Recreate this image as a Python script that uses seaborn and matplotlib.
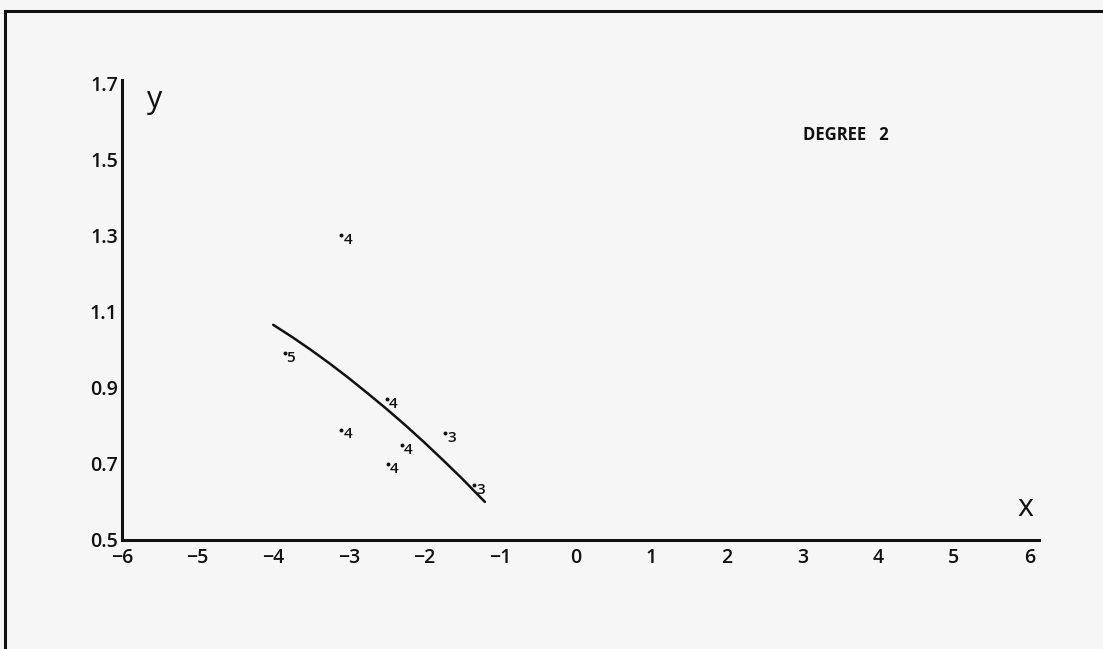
import matplotlib
matplotlib.use("Agg")
import matplotlib.pyplot as plt
from matplotlib.patches import Rectangle
import seaborn as sns
import pandas as pd

# Observed points and their multiplicities
obs_x = [-3.1, -3.85, -2.5, -3.1, -1.73, -2.3, -2.48, -1.34]
obs_y = [1.30, 0.99, 0.87, 0.79, 0.78, 0.75, 0.70, 0.645]
obs_n = [4, 5, 4, 4, 3, 4, 4, 3]

# Fitted degree-2 curve
fit_x = [-4.0, -3.75, -3.5, -3.25, -3.0, -2.75, -2.5, -2.25, -2.0, -1.75,
         -1.5, -1.25, -1.2]
fit_y = [1.065, 1.033, 0.999, 0.963, 0.925, 0.885, 0.844, 0.801, 0.756,
         0.709, 0.661, 0.610, 0.600]

x_ticks = [-6, -5, -4, -3, -2, -1, 0, 1, 2, 3, 4, 5, 6]
y_ticks = [0.5, 0.7, 0.9, 1.1, 1.3, 1.5, 1.7]
note = "DEGREE   2"

sns.set_theme(style="white")
plt.rcParams["font.family"] = ["Open Sans", "DejaVu Sans"]

bg = "#f6f6f6"
ink = "#111111"

fig = plt.figure(figsize=(11.03, 6.49), dpi=100, facecolor=bg)
ax = fig.add_axes([0.1106, 0.168, 0.8314, 0.7088], facecolor=bg)

pts = pd.DataFrame({"x": obs_x, "y": obs_y, "n": obs_n})
fit = pd.DataFrame({"x": fit_x, "y": fit_y})

sns.lineplot(data=fit, x="x", y="y", ax=ax, color=ink, linewidth=1.8,
             sort=True, estimator=None)
sns.scatterplot(data=pts, x="x", y="y", ax=ax, color=ink, s=8,
                edgecolor=ink, linewidth=0, zorder=3)
for xv, yv, nv in zip(obs_x, obs_y, obs_n):
    ax.annotate(str(nv), (xv, yv), xytext=(1.5, -3.5), textcoords="offset points",
                ha="left", va="center", fontsize=11, fontweight="semibold",
                color=ink)

ax.set_xlim(-6, 6.13)
ax.set_ylim(0.5, 1.708)
ax.set_xticks(x_ticks)
ax.set_xticklabels([f"{v}".replace("-", "\u2212") for v in x_ticks])
ax.set_yticks(y_ticks)
ax.set_yticklabels([f"{v:.1f}" for v in y_ticks])

for side in ("top", "right"):
    ax.spines[side].set_visible(False)
for side in ("left", "bottom"):
    ax.spines[side].set_linewidth(2.2)
    ax.spines[side].set_color(ink)

ax.tick_params(axis="both", direction="in", length=4, width=1.6, color=ink,
               labelsize=14, labelcolor=ink)
ax.tick_params(axis="x", pad=6)
ax.tick_params(axis="y", pad=3)
for lab in ax.get_xticklabels() + ax.get_yticklabels():
    lab.set_fontweight("semibold")

ax.set_xlabel("")
ax.set_ylabel("")
ax.text(0.027, 0.99, "y", transform=ax.transAxes, ha="left", va="top",
        fontsize=22, color=ink)
ax.text(0.985, 0.07, "x", transform=ax.transAxes, ha="center", va="center",
        fontsize=22, color=ink)
ax.text(0.743, 0.88, note, transform=ax.transAxes, ha="left", va="center",
        fontsize=12, fontweight="bold", color=ink)

# Surrounding frame
fig.patches.append(Rectangle((5 / 1103, -0.2), 1.2, 1.2 - 11 / 649,
                             transform=fig.transFigure, fill=False,
                             edgecolor=ink, linewidth=2.2, zorder=10))

fig.savefig("out.png", dpi=100, facecolor=bg)
